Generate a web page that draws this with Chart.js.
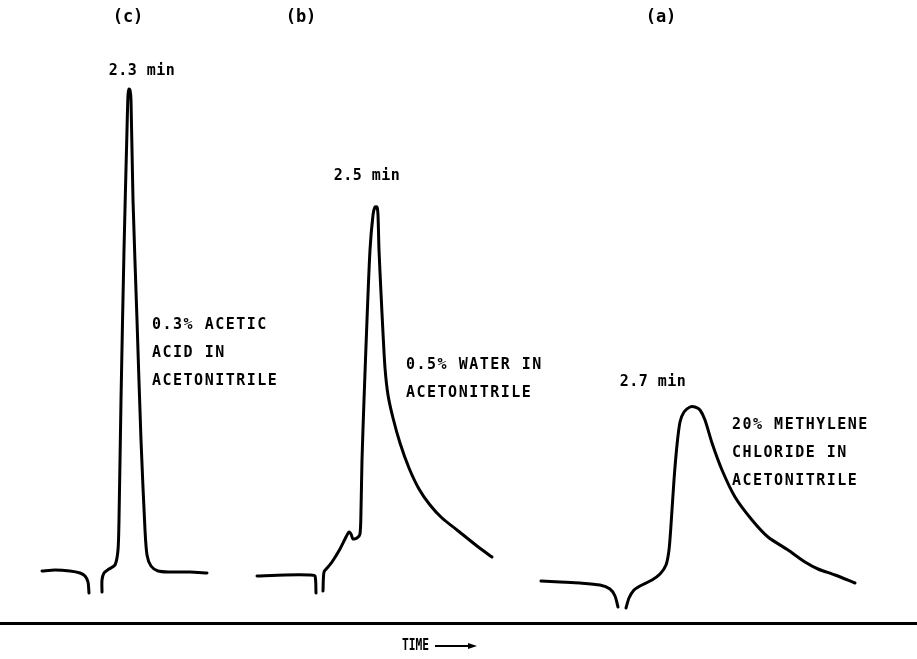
<!DOCTYPE html>
<html>
<head>
<meta charset="utf-8">
<script src="https://cdn.jsdelivr.net/npm/chart.js@4.4.1/dist/chart.umd.min.js"></script>
<style>
  html, body { margin: 0; padding: 0; background: #fff; }
  #wrap { width: 917px; height: 659px; position: relative; }
</style>
</head>
<body>
<div id="wrap"><canvas id="c"></canvas></div>
<script>
// Chart distance (time axis, arbitrary recorder units) and detector signal (above axis line)
// (c) 0.3% acetic acid in acetonitrile
const cBeforeX = [42, 55, 70, 80, 85, 88, 89];
const cBeforeY = [52, 53, 52, 50, 47, 41, 30];
const cPeakX = [102, 102, 104, 109, 115, 118, 119, 121, 124, 127, 128, 129, 130, 131, 133, 137, 141, 145, 147, 151, 158, 170, 190, 207];
const cPeakY = [31, 43, 50, 54, 58, 73, 103, 223, 373, 493, 528, 534, 533, 523, 423, 303, 183, 93, 68, 57, 52, 51, 51, 50];
// (b) 0.5% water in acetonitrile
const bBeforeX = [257, 285, 310, 315, 316];
const bBeforeY = [47, 48, 48, 47, 30];
const bPeakX = [323, 324, 328, 332, 340, 346, 349, 351, 353, 357, 360, 361, 362, 364, 367, 370, 373, 375, 377, 378, 379, 381, 383, 385, 388, 393, 400, 409, 419, 430, 442, 457, 477, 492];
const bPeakY = [32, 51, 56, 61, 74, 86, 91, 89, 84, 85, 89, 113, 163, 223, 303, 373, 408, 416, 416, 408, 373, 330, 290, 255, 228, 205, 180, 155, 134, 118, 105, 93, 77, 66];
// (a) 20% methylene chloride in acetonitrile
const aBeforeX = [541, 560, 580, 600, 610, 615, 618];
const aBeforeY = [42, 41, 40, 38, 34, 27, 16];
const aPeakX = [626, 629, 634, 640, 652, 660, 666, 669, 671, 674, 677, 680, 684, 690, 695, 700, 705, 712, 722, 735, 752, 768, 788, 805, 818, 835, 855];
const aPeakY = [15, 25, 33, 37, 43, 49, 58, 73, 98, 143, 178, 201, 211, 216, 216, 213, 203, 180, 153, 126, 103, 86, 73, 61, 54, 48, 40];

// Text labels
const panelLabels = ["(c)", "(b)", "(a)"];
const panelX = [128, 301, 661];
const retentionLabels = ["2.3 min", "2.5 min", "2.7 min"];
const retentionX = [142, 367, 653];
const retentionY = [552, 447, 241];
const sampleLines = [
  ["0.3% ACETIC", "ACID IN", "ACETONITRILE"],
  ["0.5% WATER IN", "ACETONITRILE"],
  ["20% METHYLENE", "CHLORIDE IN", "ACETONITRILE"]
];
const sampleX = [152, 406, 732];
const sampleTopY = [298, 258, 198];
const axisTitle = "TIME";

const X_MAX = 917, Y_MAX = 623;

function pts(xs, ys) { return xs.map((x, i) => ({x: x, y: ys[i]})); }
function ds(xs, ys) {
  return {
    data: pts(xs, ys),
    borderColor: '#000',
    borderWidth: 3,
    pointRadius: 0,
    tension: 0.25,
    fill: false,
    borderCapStyle: 'round',
    borderJoinStyle: 'round'
  };
}

const FONT = '"DejaVu Sans Mono", "Liberation Mono", monospace';

const textPlugin = {
  id: 'texts',
  afterDraw(chart) {
    const ctx = chart.ctx;
    const xs = chart.scales.x, ys = chart.scales.y;
    ctx.save();
    ctx.fillStyle = '#000';
    ctx.textBaseline = 'middle';
    // panel letters
    ctx.font = 'bold 17px ' + FONT;
    ctx.textAlign = 'center';
    panelLabels.forEach((t, i) => {
      ctx.fillText(t, xs.getPixelForValue(panelX[i]), 18);
    });
    // retention times
    ctx.font = 'bold 15px ' + FONT;
    try { ctx.letterSpacing = '0.5px'; } catch (e) {}
    retentionLabels.forEach((t, i) => {
      ctx.fillText(t, xs.getPixelForValue(retentionX[i]), ys.getPixelForValue(retentionY[i]));
    });
    // sample descriptions
    ctx.textAlign = 'left';
    ctx.font = 'bold 15px ' + FONT;
    try { ctx.letterSpacing = '1.5px'; } catch (e) {}
    sampleLines.forEach((lines, i) => {
      lines.forEach((t, j) => {
        ctx.fillText(t, xs.getPixelForValue(sampleX[i]), ys.getPixelForValue(sampleTopY[i] - 28 * j));
      });
    });
    // axis title with arrow (condensed lettering)
    try { ctx.letterSpacing = '0px'; } catch (e) {}
    ctx.font = 'bold 15px ' + FONT;
    const tx = xs.getPixelForValue(402);
    const ty = chart.chartArea.bottom + 23;
    ctx.save();
    ctx.translate(tx, ty);
    ctx.scale(0.75, 1);
    ctx.fillText(axisTitle, 0, 0);
    ctx.restore();
    const lx0 = tx + 33, lx1 = tx + 68;
    ctx.strokeStyle = '#000';
    ctx.lineWidth = 2;
    ctx.beginPath();
    ctx.moveTo(lx0, ty);
    ctx.lineTo(lx1, ty);
    ctx.stroke();
    ctx.beginPath();
    ctx.moveTo(lx1 - 2, ty - 3);
    ctx.lineTo(lx1 + 7, ty);
    ctx.lineTo(lx1 - 2, ty + 3);
    ctx.closePath();
    ctx.fill();
    ctx.restore();
  }
};

new Chart(document.getElementById('c'), {
  type: 'line',
  data: {
    datasets: [
      ds(cBeforeX, cBeforeY), ds(cPeakX, cPeakY),
      ds(bBeforeX, bBeforeY), ds(bPeakX, bPeakY),
      ds(aBeforeX, aBeforeY), ds(aPeakX, aPeakY)
    ]
  },
  options: {
    responsive: true,
    maintainAspectRatio: false,
    animation: false,
    layout: { padding: 0 },
    plugins: { legend: { display: false }, tooltip: { enabled: false }, title: { display: false } },
    scales: {
      x: {
        type: 'linear', min: 0, max: X_MAX,
        ticks: { display: false },
        grid: { display: false },
        border: { display: true, color: '#000', width: 3 },
        afterFit(scale) { scale.height = 659 - Y_MAX; }
      },
      y: {
        type: 'linear', min: 0, max: Y_MAX, display: false
      }
    }
  },
  plugins: [textPlugin]
});
</script>
</body>
</html>
